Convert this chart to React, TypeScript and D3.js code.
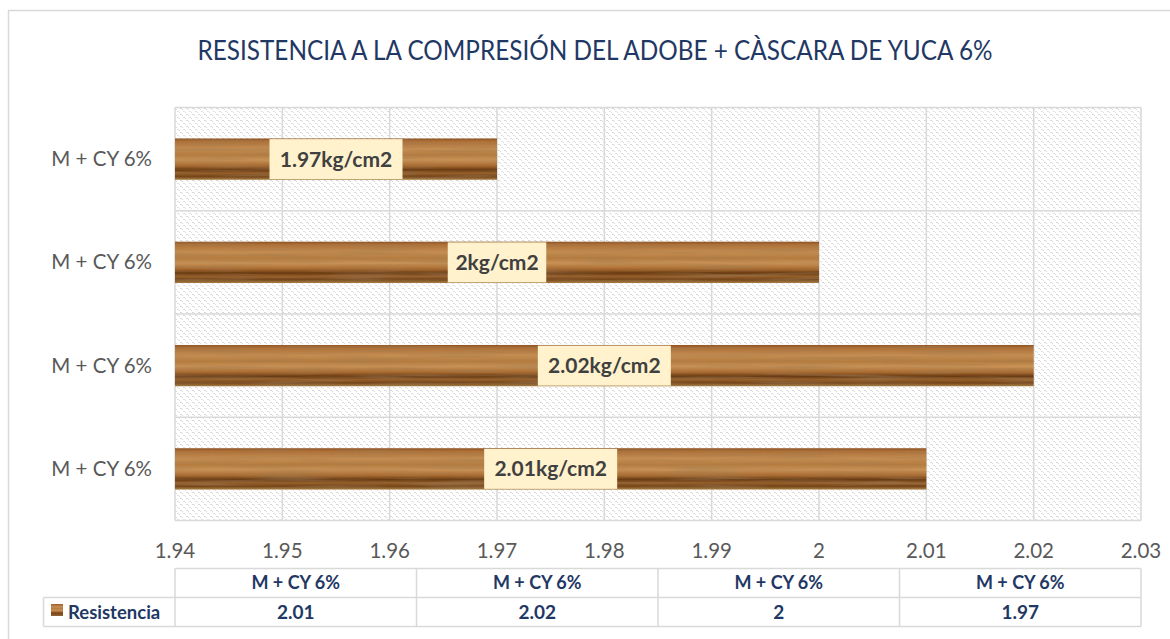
import React from "react";
import * as d3 from "d3";

const title = "RESISTENCIA A LA COMPRESIÓN DEL ADOBE + CÀSCARA DE YUCA 6%";
const categories = ["M + CY 6%", "M + CY 6%", "M + CY 6%", "M + CY 6%"];
const values = [2.01, 2.02, 2, 1.97];
const labels = ["2.01kg/cm2", "2.02kg/cm2", "2kg/cm2", "1.97kg/cm2"];
const tableValues = ["2.01", "2.02", "2", "1.97"];
const seriesName = "Resistencia";
const xTicks = [1.94, 1.95, 1.96, 1.97, 1.98, 1.99, 2, 2.01, 2.02, 2.03];

const W = 1170;
const H = 639;
const plot = { left: 175, right: 1141, top: 107.5, bottom: 520.5 };
const FONT = "Lato, 'Open Sans', 'DejaVu Sans', sans-serif";
const NAVY = "#1F3864";
const GRID = "#d9d9d9";

export default function App() {
  const x = d3.scaleLinear().domain([1.94, 2.03]).range([plot.left, plot.right]);
  const idx = categories.map((_, i) => String(i));
  const y = d3
    .scaleBand<string>()
    .domain(idx)
    .range([plot.bottom, plot.top])
    .paddingInner(0.6)
    .paddingOuter(0.3);
  const step = y.step();
  const bandEdges = d3.range(categories.length + 1).map((i) => plot.bottom - i * step);
  const colW = (plot.right - plot.left) / categories.length;
  const tTop = 568.5, tMid = 597.5, tBot = 626.5, tLeft = 43.5;

  return (
    <svg width={W} height={H} style={{ position: "absolute", left: 0, top: 0 }} fontFamily={FONT}>
      <defs>
        <pattern id="hatch" width="6" height="6" patternUnits="userSpaceOnUse">
          <rect width="6" height="6" fill="#ffffff" />
          <rect x="0" y="0" width="2" height="1" fill="#d8d8d8" />
          <rect x="2" y="1" width="1" height="1" fill="#d8d8d8" />
          <rect x="3" y="3" width="2" height="1" fill="#e0e0e0" />
          <rect x="5" y="4" width="1" height="1" fill="#e0e0e0" />
        </pattern>
        <linearGradient id="wood" x1="0" y1="0" x2="0" y2="1">
          <stop offset="0" stopColor="#8e5224" />
          <stop offset="0.07" stopColor="#ad7038" />
          <stop offset="0.25" stopColor="#c48d52" />
          <stop offset="0.4" stopColor="#b57c40" />
          <stop offset="0.52" stopColor="#c89257" />
          <stop offset="0.66" stopColor="#a86a30" />
          <stop offset="0.76" stopColor="#683a14" />
          <stop offset="0.84" stopColor="#96602c" />
          <stop offset="0.92" stopColor="#74441a" />
          <stop offset="1" stopColor="#aa8044" />
        </linearGradient>
        <filter id="grain" x="0" y="0" width="1" height="1">
          <feTurbulence type="fractalNoise" baseFrequency="0.012 0.35" numOctaves="2" seed="4" result="n" />
          <feColorMatrix in="n" type="matrix"
            values="0 0 0 0 0.35  0 0 0 0 0.2  0 0 0 0 0.08  0 0 0 1.1 -0.45" result="c" />
          <feComposite in="c" in2="SourceGraphic" operator="in" result="m" />
          <feMerge>
            <feMergeNode in="SourceGraphic" />
            <feMergeNode in="m" />
          </feMerge>
        </filter>
      </defs>

      {/* chart border */}
      <rect x={8.5} y={10.5} width={W} height={H} fill="#ffffff" stroke={GRID} strokeWidth={1.5} />

      {/* title */}
      <text x={595} y={60} textAnchor="middle" fontSize={26} fontWeight={400} fill={NAVY}
        textLength={795} lengthAdjust="spacingAndGlyphs">{title}</text>

      {/* plot background */}
      <rect x={plot.left} y={plot.top} width={plot.right - plot.left} height={plot.bottom - plot.top} fill="url(#hatch)" />

      {/* gridlines */}
      {xTicks.map((t) => (
        <line key={"v" + t} x1={x(t)} x2={x(t)} y1={plot.top} y2={plot.bottom} stroke={GRID} strokeWidth={1.5} />
      ))}
      {bandEdges.map((e, i) => (
        <line key={"h" + i} x1={plot.left} x2={plot.right} y1={e} y2={e} stroke={GRID} strokeWidth={1.5} />
      ))}

      {/* bars */}
      {values.map((v, i) => (
        <rect key={"b" + i} x={x(1.94)} y={y(String(i))!} width={x(v) - x(1.94)} height={y.bandwidth()}
          fill="url(#wood)" filter="url(#grain)" />
      ))}

      {/* data labels */}
      {values.map((v, i) => {
        const cx = (x(1.94) + x(v)) / 2;
        const cy = y(String(i))! + y.bandwidth() / 2;
        const w = labels[i].length * 11.5 + 18;
        return (
          <g key={"l" + i}>
            <rect x={cx - w / 2} y={cy - 20} width={w} height={40} fill="#FFF2CC" />
            <text x={cx} y={cy + 7.5} textAnchor="middle" fontSize={21} fontWeight={700} fill="#404040">{labels[i]}</text>
          </g>
        );
      })}

      {/* category labels */}
      {categories.map((c, i) => (
        <text key={"c" + i} x={152} y={y(String(i))! + y.bandwidth() / 2 + 7} textAnchor="end" fontSize={20.5} fill="#595959">{c}</text>
      ))}

      {/* x tick labels */}
      {xTicks.map((t) => (
        <text key={"t" + t} x={x(t)} y={558} textAnchor="middle" fontSize={20.5} fill="#595959">{d3.format("")(t)}</text>
      ))}

      {/* data table */}
      <g stroke={GRID} strokeWidth={1.5} fill="none">
        <line x1={plot.left} x2={plot.right} y1={tTop} y2={tTop} />
        <line x1={tLeft} x2={plot.right} y1={tMid} y2={tMid} />
        <line x1={tLeft} x2={plot.right} y1={tBot} y2={tBot} />
        <line x1={tLeft} x2={tLeft} y1={tMid} y2={tBot} />
        {d3.range(categories.length + 1).map((i) => (
          <line key={"tc" + i} x1={plot.left + i * colW} x2={plot.left + i * colW} y1={tTop} y2={tBot} />
        ))}
      </g>
      {categories.map((c, i) => (
        <text key={"th" + i} x={plot.left + (i + 0.5) * colW} y={tTop + 20.5} textAnchor="middle" fontSize={18} fontWeight={700} fill={NAVY}>{c}</text>
      ))}
      {tableValues.map((v, i) => (
        <text key={"tv" + i} x={plot.left + (i + 0.5) * colW} y={tMid + 21.5} textAnchor="middle" fontSize={19} fontWeight={700} fill={NAVY}>{v}</text>
      ))}
      <rect x={51} y={604} width={12} height={12} fill="url(#wood)" />
      <text x={68} y={tMid + 21} fontSize={18.5} fontWeight={700} fill={NAVY}>{seriesName}</text>
    </svg>
  );
}
